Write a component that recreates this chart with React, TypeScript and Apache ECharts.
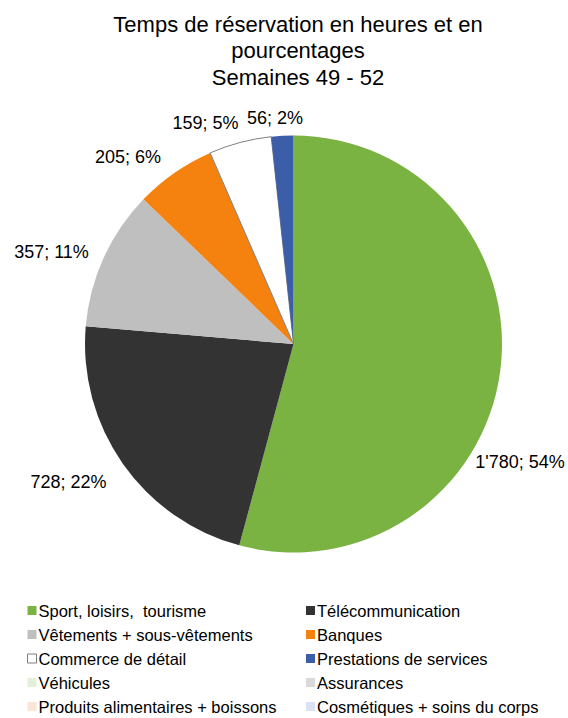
import React, { useEffect, useRef } from "react";
import * as echarts from "echarts";

const categories = [
  "Sport, loisirs,  tourisme",
  "Télécommunication",
  "Vêtements + sous-vêtements",
  "Banques",
  "Commerce de détail",
  "Prestations de services",
  "Véhicules",
  "Assurances",
  "Produits alimentaires + boissons",
  "Cosmétiques + soins du corps",
];
const values = [1780, 728, 357, 205, 159, 56, 0, 0, 0, 0];
const colors = [
  "#7ab342",
  "#333333",
  "#bfbfbf",
  "#f5820f",
  "#ffffff",
  "#3c5ea8",
  "#e2efd9",
  "#d9d9d9",
  "#fbe5d6",
  "#dae3f3",
];
const leftIdx = [0, 2, 4, 6, 8];
const rightIdx = [1, 3, 5, 7, 9];
const titleText = "Temps de réservation en heures et en\npourcentages\nSemaines 49 - 52";

// label anchor positions (Excel "best fit" placement), centre of each label
const labelAnchors: [number, number][] = [
  [520, 462],
  [68.5, 482],
  [51.5, 252],
  [128, 157],
  [205.5, 123],
  [275, 118],
];

const FONT = "'Liberation Sans', Arial, sans-serif";
const OUTLINE = "#7f7f7f";

function fmt(v: number) {
  return String(v).replace(/\B(?=(\d{3})+(?!\d))/g, "'");
}

export default function App() {
  const ref = useRef<HTMLDivElement>(null);
  useEffect(() => {
    document.body.style.margin = "0";
    if (!ref.current) return;
    const chart = echarts.init(ref.current, undefined, { renderer: "svg" });
    const data = categories.map((name, i) => ({
      name,
      value: values[i],
      itemStyle: {
        color: colors[i],
        borderColor: i === 4 ? OUTLINE : colors[i],
        borderWidth: i === 4 ? 1 : 0,
      },
      label: { show: values[i] > 0 },
    }));
    const legendItems = (idx: number[]) =>
      idx.map((i) => ({
        name: categories[i],
        itemStyle: {
          color: colors[i],
          borderColor: i === 4 ? OUTLINE : colors[i],
          borderWidth: i === 4 ? 1 : 0,
        },
      }));
    const legendBase = {
      type: "plain",
      orient: "vertical" as const,
      top: 602,
      height: 200,
      padding: 0,
      itemWidth: 9,
      itemHeight: 9,
      itemGap: 7,
      icon: "rect",
      textStyle: { fontFamily: FONT, fontSize: 16.5, color: "#000", lineHeight: 15, padding: [0, 0, 0, -3] },
      selectedMode: false,
    };
    chart.setOption({
      animation: false,
      graphic: [
        {
          type: "text",
          x: 298,
          y: 11,
          style: {
            text: titleText,
            align: "center",
            verticalAlign: "top",
            fontFamily: FONT,
            fontSize: 22,
            lineHeight: 26.5,
            fill: "#000",
          },
        },
      ],
      legend: [
        { ...legendBase, left: 27, data: legendItems(leftIdx) },
        { ...legendBase, left: 306, data: legendItems(rightIdx) },
      ],
      series: [
        {
          type: "pie",
          center: [293.5, 344],
          radius: 208.5,
          startAngle: 90,
          clockwise: true,
          avoidLabelOverlap: false,
          data,
          label: {
            position: "outside",
            fontFamily: FONT,
            fontSize: 18,
            color: "#000",
            formatter: (p: any) => `${fmt(p.value)}; ${Math.round(p.percent)}%`,
          },
          labelLine: { show: false, length: 6, length2: 0 },
          labelLayout: (p: any) => {
            const a = labelAnchors[p.dataIndex];
            if (!a) return {};
            return { x: a[0], y: a[1], align: "center", verticalAlign: "middle" };
          },
          emphasis: { disabled: true },
        },
      ],
    });
    return () => chart.dispose();
  }, []);
  return <div ref={ref} style={{ width: 568, height: 718 }} />;
}
